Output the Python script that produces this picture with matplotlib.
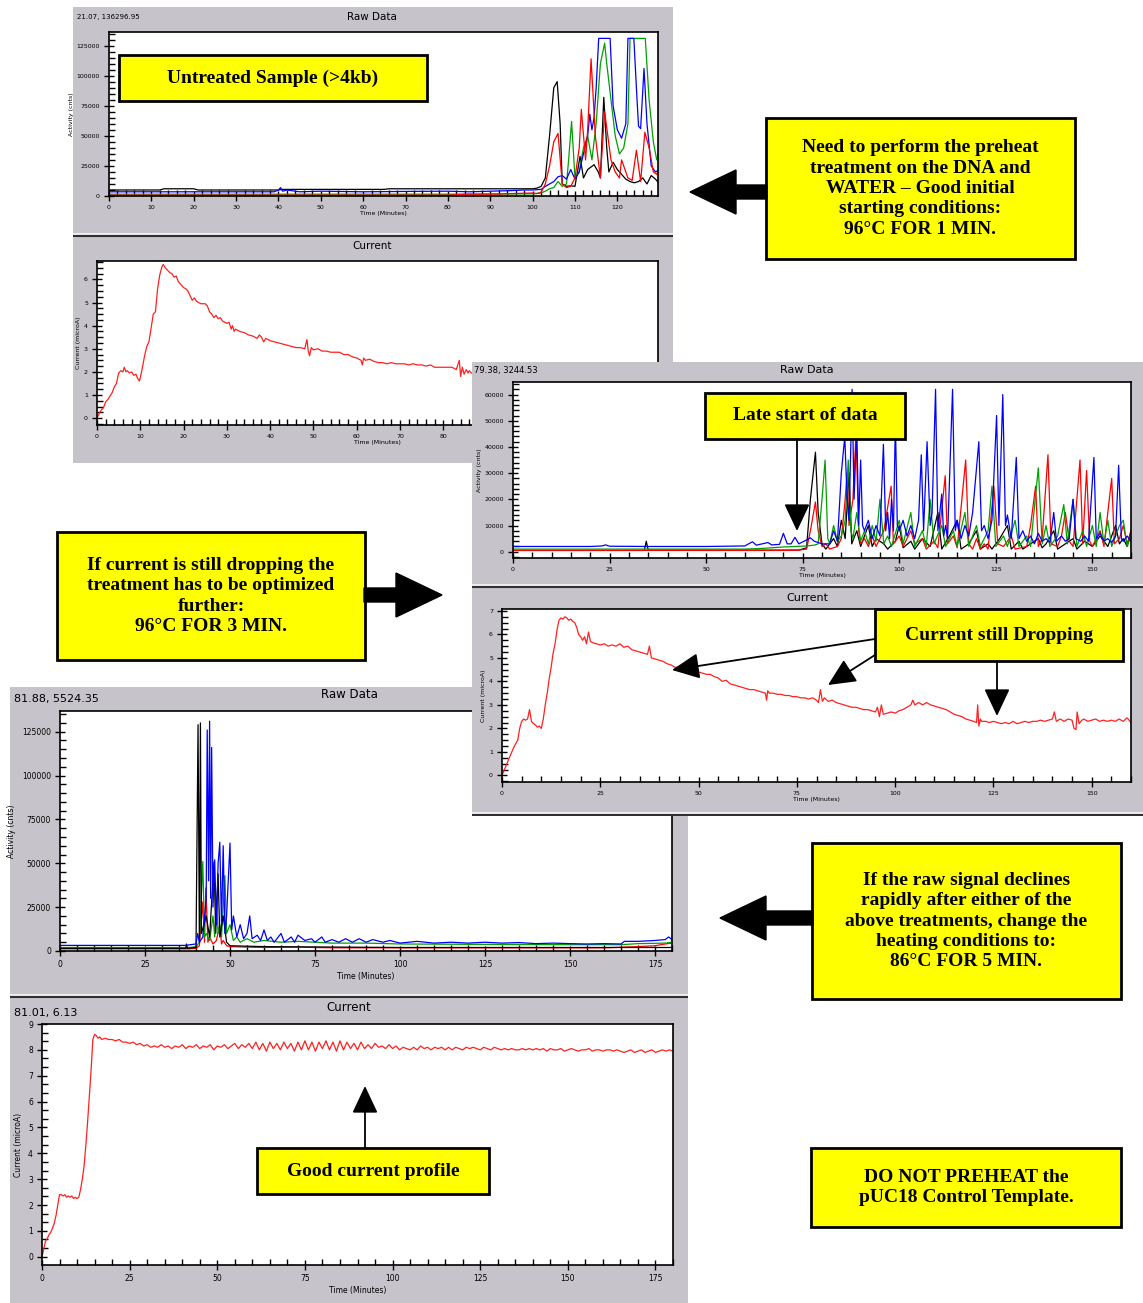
import matplotlib
matplotlib.use("Agg")
import matplotlib.pyplot as plt
from matplotlib.patches import Rectangle, FancyArrow
from matplotlib.ticker import MultipleLocator

W, H = 1143, 1303
GREY = "#c6c4ca"
YEL = "#ffff00"
SERIF = "Liberation Serif"

# ---------------- data ----------------
# panel 1 : untreated sample, raw data (time min, counts)
p1_black = [(0, 5000), (12, 5000), (13, 6000), (20, 6000), (21, 5000), (40, 5000), (41, 5500), (65, 5500),
            (66, 6000), (100, 6000), (101, 6500), (102, 8000), (103, 15000), (104, 50000), (105, 90000),
            (105.8, 95000), (106.5, 60000), (107, 10000), (108, 8000), (109, 8500), (110, 8000),
            (111.2, 33000), (112, 15000), (113, 22000), (114.5, 26000), (115.5, 20000), (116, 15000),
            (116.8, 82000), (117.5, 40000), (118, 20000), (119, 28000), (120, 22000), (121, 18000),
            (122, 14000), (123, 12000), (124, 11000), (125, 12000), (126, 15000), (127, 10000),
            (128, 17000), (129, 14000), (130, 10000)]
p1_blue = [(0, 3500), (39, 3500), (40, 5000), (40.5, 7000), (41, 4000), (42, 5000), (45, 3500), (50, 4000),
           (60, 3500), (70, 3800), (80, 4000), (85, 3500), (90, 4000), (95, 4500), (98, 5000), (100, 5000),
           (102, 5500), (103, 8000), (104, 10000), (105, 12000), (106, 16000), (107, 17000), (108, 14000),
           (109, 22000), (110, 14000), (111, 20000), (112, 35000), (113, 50000), (113.5, 68000),
           (114, 55000), (114.5, 65000), (115, 90000), (115.6, 131000), (118.3, 131000), (119, 75000),
           (120, 55000), (121, 48000), (122, 60000), (122.5, 131000), (123.9, 131000), (124.5, 90000),
           (125, 58000), (125.5, 56000), (126.3, 106000), (127, 60000), (128, 25000), (129, 20000), (130, 22000)]
p1_red = [(0, 700), (80, 700), (85, 1500), (90, 1500), (95, 2000), (100, 2500), (101, 2000), (102, 3000),
          (103, 10000), (104, 25000), (105, 45000), (106, 52000), (107, 10000), (108, 7000), (109, 8000),
          (110, 15000), (111, 40000), (111.5, 72000), (112.5, 30000), (113, 55000), (113.8, 114000),
          (114.8, 50000), (116, 15000), (117, 70000), (118.5, 30000), (119.5, 20000), (120.5, 15000),
          (121, 30000), (122.5, 15000), (123.5, 13000), (124.5, 38000), (125.5, 12000), (126.5, 53000),
          (127.5, 40000), (128.5, 20000), (129.3, 18000), (130, 25000)]
p1_green = [(0, 1500), (80, 1500), (100, 1800), (102, 2500), (103, 4000), (104, 6000), (105, 7000),
            (106, 12000), (107, 8000), (108, 10000), (108.5, 30000), (109.2, 62000), (110, 15000),
            (111, 20000), (112, 40000), (113, 50000), (114, 30000), (115, 60000), (116, 110000),
            (117, 127000), (117.5, 110000), (118.5, 80000), (119.5, 50000), (120.5, 35000), (121.5, 40000),
            (122.5, 60000), (123, 131000), (126.6, 131000), (127.5, 80000), (128.5, 45000), (129.3, 30000),
            (130, 40000)]

# panel 1 : current (microA)
p1_current = [(0, 0.0), (0.5, 0.2), (1, 0.35), (1.5, 0.45), (2, 0.7), (2.5, 0.8), (3, 0.95), (3.5, 1.1),
              (4, 1.35), (4.5, 1.5), (5, 1.95), (5.5, 2.05), (6, 2.0), (6.3, 2.2), (6.7, 2.0), (7, 2.05),
              (7.5, 1.95), (8, 2.0), (8.5, 1.85), (9, 1.9), (9.3, 1.75), (9.8, 1.6), (10.3, 2.0), (11, 2.7),
              (11.5, 3.1), (12, 3.3), (12.5, 3.9), (13, 4.5), (13.5, 4.6), (14, 5.6), (14.5, 6.2), (15, 6.55),
              (15.3, 6.65), (15.8, 6.5), (16.3, 6.4), (16.8, 6.3), (17.3, 6.25), (17.8, 6.1), (18.3, 6.15),
              (18.8, 5.9), (19.3, 5.8), (20, 5.65), (20.5, 5.6), (21, 5.5), (21.5, 5.3), (22, 5.1),
              (22.5, 5.2), (23, 5.05), (24, 4.95), (25, 4.95), (25.5, 4.85), (26, 4.6), (26.5, 4.5),
              (27, 4.35), (27.5, 4.45), (28, 4.3), (28.5, 4.35), (29, 4.2), (29.5, 4.15), (30, 4.1),
              (30.5, 4.15), (31, 3.85), (31.3, 4.0), (31.7, 3.75), (32, 3.85), (33, 3.75), (34, 3.7),
              (35, 3.6), (36, 3.55), (37, 3.45), (37.5, 3.6), (38, 3.5), (38.5, 3.3), (39, 3.45), (40, 3.35),
              (41, 3.3), (42, 3.25), (43, 3.2), (44, 3.15), (45, 3.1), (46, 3.05), (47, 3.05), (48, 3.0),
              (48.5, 3.4), (48.8, 2.9), (49.1, 2.7), (49.5, 3.05), (50, 2.95), (51, 3.0), (52, 2.9),
              (53, 2.9), (54, 2.85), (55, 2.85), (56, 2.85), (57, 2.75), (58, 2.75), (59, 2.65), (60, 2.6),
              (61, 2.5), (61.3, 2.3), (61.6, 2.6), (62, 2.5), (63, 2.55), (64, 2.45), (65, 2.4), (66, 2.4),
              (67, 2.35), (68, 2.4), (69, 2.35), (70, 2.35), (71, 2.35), (72, 2.3), (73, 2.35), (74, 2.3),
              (75, 2.3), (76, 2.25), (77, 2.3), (78, 2.2), (79, 2.2), (80, 2.2), (81, 2.2), (82, 2.2),
              (83, 2.1), (83.7, 2.5), (84, 1.8), (84.4, 2.2), (84.8, 1.9), (85.3, 2.1), (85.7, 1.95),
              (86, 2.05), (86.5, 1.95), (87, 2.0), (88, 1.95)]

# panel 2 : preheated 1 min, raw data
p2_blue = [(0, 2000), (10, 2000), (20, 2000), (23, 2200), (24, 2600), (25, 2100), (35, 2000), (50, 2000),
           (60, 2200), (62, 3800), (63, 2500), (66, 3500), (67, 2600), (69, 2800), (70, 7000), (71, 3000),
           (72, 3000), (73, 5500), (74, 3000), (76, 4500), (77, 5300), (78, 4000), (80, 3000), (82, 3000),
           (83, 8000), (84, 4000), (85, 30000), (85.9, 44000), (86.5, 20000), (87, 12000), (87.8, 62000),
           (88.3, 20000), (89, 48000), (89.5, 10000), (90, 35000), (90.5, 10000), (91, 8000), (92, 12000),
           (93, 5000), (94, 10000), (95, 6000), (95.9, 41000), (96.5, 8000), (97, 15000), (97.5, 5000),
           (98, 20000), (98.5, 8000), (99, 50000), (99.5, 10000), (100, 8000), (101, 12000), (102, 6000),
           (103, 10000), (104, 5000), (105, 12000), (105.7, 37000), (106.3, 8000), (107.2, 42000),
           (108, 10000), (108.5, 15000), (109.4, 62000), (110, 8000), (111, 22000), (111.5, 6000),
           (112, 10000), (112.5, 5000), (113.8, 62000), (114.5, 8000), (115, 12000), (116, 5000),
           (117, 10000), (118, 6000), (119, 15000), (120.6, 42000), (121.3, 8000), (122, 10000),
           (123, 5000), (124, 12000), (125.2, 52000), (125.8, 10000), (126.8, 60000), (127.5, 10000),
           (128, 14000), (129, 5000), (130.3, 36000), (131, 5000), (132, 8000), (133, 4000), (134, 6000),
           (135, 3000), (136, 7000), (137, 4000), (138, 5000), (139, 3500), (140, 15000), (140.7, 4000),
           (142, 6000), (143, 4000), (144, 5000), (145, 20000), (145.7, 5000), (147, 4000), (148, 6000),
           (149, 4000), (150.4, 36000), (151, 5000), (152, 7000), (153, 4000), (154, 5000), (155, 3500),
           (156, 6000), (156.8, 33000), (157.5, 5000), (158, 4000), (159, 6000), (160, 4000)]
p2_red = [(0, 500), (70, 500), (74, 600), (76, 1000), (77, 8000), (78.3, 19000), (79, 8000), (80, 2000),
          (81, 3000), (82, 1000), (84, 2000), (85, 5000), (86, 20000), (86.5, 30000), (87, 10000),
          (88, 20000), (88.8, 45000), (89.5, 8000), (90, 3000), (91, 5000), (92, 2000), (93, 6000),
          (94, 2000), (96, 8000), (97.9, 25000), (98.5, 3000), (100, 6000), (101, 2000), (103, 8000),
          (104, 3000), (106, 5000), (107, 1000), (109, 4000), (110, 1500), (111.9, 29000), (112.5, 3000),
          (114, 6000), (115, 1500), (117.2, 35000), (118, 3000), (119, 1000), (120, 5000), (121, 1000),
          (122, 3000), (123, 1000), (124.5, 25000), (125.5, 3000), (127, 2000), (129, 6000), (130, 1000),
          (133, 2000), (134, 10000), (135.3, 25000), (136, 2000), (137, 5000), (138.5, 37000),
          (139.3, 3000), (141, 2000), (142, 6000), (143, 15000), (144, 4000), (145, 2000), (146.8, 35000),
          (147.5, 3000), (148.5, 31000), (149.3, 4000), (150, 2000), (152, 8000), (153, 2000),
          (155, 28000), (155.7, 3000), (157, 5000), (158, 10000), (159, 3000), (160, 8000)]
p2_black = [(0, 500), (34, 500), (34.5, 4000), (35, 600), (74, 600), (76, 1500), (77, 20000), (78.3, 38000),
            (79, 15000), (80, 3000), (81, 1000), (83, 5000), (84, 2000), (85, 12000), (86, 5000),
            (87, 30000), (87.7, 3000), (89, 8000), (90, 2000), (91, 6000), (92, 10000), (93, 2000),
            (94, 5000), (96, 3000), (97, 1000), (99, 4000), (100, 10000), (101, 1500), (103, 4000),
            (104, 1000), (106, 5000), (108, 2000), (110, 15000), (111, 1000), (113, 6000), (115, 12000),
            (116, 1000), (118, 3000), (120, 8000), (121, 1000), (123, 3000), (124, 1000), (126, 5000),
            (128, 10000), (129, 1000), (131, 4000), (132, 1000), (134, 3000), (136, 5000), (137, 1500),
            (138, 3000), (140, 8000), (141, 1000), (143, 3000), (145, 5000), (146, 1000), (148, 4000),
            (150, 2000), (152, 6000), (154, 2000), (156, 10000), (157, 3000), (158, 5000), (159, 2000),
            (160, 8000)]
p2_green = [(0, 1000), (60, 1000), (65, 1300), (70, 1800), (76, 2200), (78, 2500), (79, 3000), (80, 20000),
            (80.8, 35000), (81.5, 5000), (82, 3000), (83, 10000), (84, 4000), (85, 6000), (86, 12000),
            (86.8, 35000), (87.5, 8000), (88, 5000), (89, 15000), (90, 4000), (91, 8000), (92, 3000),
            (93, 10000), (94, 4000), (95, 20000), (96, 3000), (97, 6000), (98, 2000), (100, 12000),
            (101, 3000), (103, 15000), (104, 2000), (106, 8000), (107, 2000), (108, 20000), (109, 3000),
            (111, 10000), (112, 2000), (114, 8000), (115, 2000), (117, 15000), (118, 2000), (120, 10000),
            (121, 2000), (123, 8000), (124, 25000), (125, 2000), (127, 6000), (128, 2000), (130, 12000),
            (131, 2000), (133, 6000), (134, 2000), (136, 32000), (137, 3000), (138, 10000), (139, 2000),
            (141, 6000), (142.6, 18000), (143.5, 3000), (145, 20000), (146, 2000), (147.5, 8000),
            (148.5, 2000), (150, 10000), (151, 2000), (152, 15000), (153, 3000), (154, 12000), (155, 2000),
            (157, 10000), (158, 12000), (159, 2000), (160, 6000)]

p2_current = [(0, 0.0), (1, 0.4), (2, 0.8), (3, 1.2), (4, 1.5), (4.5, 2.0), (5, 2.3), (5.5, 2.4), (6, 2.35),
              (6.5, 2.4), (7, 2.8), (7.5, 2.3), (8, 2.2), (8.5, 2.15), (9, 2.05), (9.5, 2.1), (10, 2.0),
              (10.5, 2.4), (11, 3.0), (11.5, 3.5), (12, 4.1), (12.5, 4.6), (13, 5.2), (13.5, 5.6), (14, 6.2),
              (14.5, 6.6), (15, 6.7), (15.5, 6.65), (16, 6.75), (16.5, 6.7), (17, 6.6), (17.5, 6.65),
              (18, 6.55), (18.5, 6.5), (19, 6.3), (19.5, 6.0), (20, 5.9), (20.5, 5.75), (21, 5.9),
              (21.5, 5.6), (22, 6.1), (22.5, 5.7), (23, 5.65), (24, 5.6), (25, 5.55), (26, 5.6), (27, 5.5),
              (28, 5.55), (29, 5.5), (30, 5.6), (31, 5.45), (32, 5.5), (33, 5.35), (34, 5.3), (35, 5.25),
              (36, 5.2), (37, 5.15), (37.5, 5.5), (38, 5.0), (39, 4.95), (40, 4.9), (41, 4.85), (42, 4.75),
              (43, 4.7), (44, 4.6), (45, 4.6), (46, 4.5), (47, 4.55), (48, 4.4), (48.5, 4.7), (49, 4.3),
              (50, 4.4), (51, 4.35), (52, 4.3), (53, 4.3), (54, 4.2), (55, 4.15), (56, 4.0), (57, 4.05),
              (58, 3.9), (59, 3.85), (60, 3.8), (61, 3.75), (62, 3.7), (63, 3.65), (64, 3.65), (65, 3.6),
              (66, 3.55), (67, 3.5), (67.3, 3.2), (67.6, 3.6), (68, 3.5), (69, 3.5), (70, 3.45), (71, 3.45),
              (72, 3.4), (73, 3.4), (74, 3.35), (75, 3.35), (76, 3.3), (77, 3.3), (78, 3.25), (79, 3.3),
              (80, 3.2), (80.5, 3.1), (81, 3.65), (81.5, 3.15), (82, 3.3), (83, 3.15), (84, 3.2), (85, 3.1),
              (86, 3.05), (87, 3.0), (88, 2.95), (89, 2.9), (90, 2.9), (91, 2.85), (92, 2.8), (93, 2.8),
              (94, 2.75), (95, 2.7), (95.5, 2.9), (96, 2.5), (96.5, 3.0), (97, 2.6), (98, 2.65), (99, 2.7),
              (100, 2.65), (101, 2.75), (102, 2.8), (103, 2.9), (104, 3.0), (104.5, 3.2), (105, 3.0),
              (106, 3.1), (107, 3.0), (108, 3.1), (109, 3.0), (110, 2.95), (111, 2.9), (112, 2.85),
              (113, 2.8), (114, 2.7), (115, 2.6), (116, 2.55), (117, 2.5), (118, 2.4), (119, 2.35),
              (120, 2.3), (120.7, 2.25), (121, 3.0), (121.3, 2.1), (121.7, 2.4), (122, 2.3), (123, 2.3),
              (124, 2.25), (125, 2.3), (126, 2.25), (127, 2.2), (128, 2.25), (129, 2.2), (130, 2.3),
              (131, 2.2), (132, 2.25), (133, 2.3), (134, 2.25), (135, 2.3), (136, 2.3), (137, 2.35),
              (138, 2.3), (139, 2.35), (140, 2.4), (140.5, 2.7), (141, 2.3), (142, 2.4), (143, 2.3),
              (144, 2.4), (145, 2.35), (145.5, 2.0), (146, 1.95), (146.3, 2.7), (146.8, 2.2), (147.5, 2.35),
              (148, 2.4), (149, 2.3), (150, 2.35), (151, 2.4), (152, 2.3), (153, 2.35), (154, 2.3),
              (155, 2.35), (156, 2.3), (157, 2.4), (158, 2.3), (159, 2.45), (160, 2.25)]

# panel 3 : optimised preheat, raw data
p3_blue = [(0, 3200), (37, 3200), (38, 3500), (40, 4000), (40.5, 10000), (41, 5000), (42, 8000), (43, 30000),
           (43.3, 126000), (43.7, 40000), (44, 131000), (44.3, 30000), (44.6, 116000), (45, 25000),
           (45.5, 52000), (46, 15000), (46.5, 50000), (47, 62000), (47.5, 15000), (48, 60000),
           (48.5, 10000), (49, 20000), (50, 61500), (50.5, 12000), (51, 20000), (52, 8000), (53, 15000),
           (54, 7000), (55, 10000), (55.8, 20000), (56.5, 7000), (58, 9000), (59, 6000), (60, 12000),
           (61, 6000), (62, 8000), (63, 5000), (65, 10000), (66, 5000), (68, 8000), (69, 5000), (70, 9000),
           (72, 6000), (74, 7000), (75, 5000), (77, 8000), (78, 5000), (80, 6500), (82, 5000), (84, 7000),
           (86, 5000), (88, 7000), (90, 5000), (92, 6500), (95, 5000), (97, 6000), (100, 4500),
           (105, 5500), (110, 4500), (115, 5000), (120, 4500), (125, 5000), (130, 4500), (135, 4800),
           (140, 4200), (145, 4500), (150, 4200), (155, 4000), (160, 4200), (165, 4000), (166, 5500),
           (170, 5500), (175, 6000), (178, 6500), (179, 8000), (180, 6500)]
p3_green = [(0, 2000), (38, 2000), (40, 2500), (41, 5000), (42, 51000), (42.5, 8000), (43, 10000),
            (44, 6000), (45, 20000), (45.5, 8000), (46, 30000), (46.5, 10000), (47, 15000), (47.5, 8000),
            (48.5, 43000), (49, 10000), (50, 15000), (51, 6000), (52, 8000), (53, 5000), (55, 7000),
            (57, 5000), (60, 6000), (65, 5000), (70, 5500), (80, 4500), (90, 4500), (100, 4000),
            (120, 3800), (150, 3600), (165, 3600), (170, 4200), (178, 4500), (180, 5000)]
p3_red = [(0, 1200), (38, 1200), (40, 1500), (41, 3000), (42, 28000), (42.5, 5000), (42.9, 36000),
          (43.5, 5000), (44, 8000), (45, 4000), (46, 6000), (47, 15000), (47.5, 4000), (48, 6000),
          (49, 3000), (50, 2500), (55, 2200), (60, 2000), (70, 2200), (80, 1800), (100, 1800), (130, 1800),
          (160, 1800), (170, 2500), (175, 3000), (178, 4000), (180, 4500)]
p3_black = [(0, 1500), (37, 1500), (37.2, 4000), (37.5, 1500), (40, 2000), (40.6, 129000), (41, 5000),
            (41.3, 130000), (41.6, 10000), (43, 20000), (44, 8000), (45.3, 50800), (45.8, 10000),
            (46.5, 44000), (47, 8000), (48, 20000), (49, 5000), (50, 3000), (60, 2500), (100, 2000),
            (180, 2000)]

p3_current = [(0, 0.0), (0.5, 0.3), (1, 0.6), (1.5, 0.7), (2, 0.85), (2.5, 0.95), (3, 1.1), (3.5, 1.3),
              (4, 1.6), (4.5, 2.0), (5, 2.4), (5.5, 2.4), (6, 2.35), (6.5, 2.4), (7, 2.3), (7.5, 2.35),
              (8, 2.3), (8.5, 2.35), (9, 2.25), (9.5, 2.3), (10, 2.25), (10.5, 2.3), (11, 2.6), (11.5, 3.0),
              (12, 3.5), (12.5, 4.3), (13, 5.2), (13.5, 6.2), (14, 7.2), (14.5, 8.4), (15, 8.6), (15.5, 8.55),
              (16, 8.45), (16.5, 8.5), (17, 8.4), (18, 8.45), (19, 8.4), (20, 8.4), (21, 8.35), (22, 8.4),
              (23, 8.3), (24, 8.3), (25, 8.25), (26, 8.3), (27, 8.2), (28, 8.25), (29, 8.15), (30, 8.2),
              (31, 8.1), (32, 8.15), (33, 8.1), (34, 8.2), (35, 8.1), (36, 8.15), (37, 8.05), (38, 8.15),
              (39, 8.1), (40, 8.2), (41, 8.05), (42, 8.15), (43, 8.1), (44, 8.2), (45, 8.05), (46, 8.15),
              (47, 8.1), (48, 8.2), (49, 8.0), (50, 8.15), (51, 8.1), (52, 8.2), (53, 8.05), (54, 8.15),
              (55, 8.25), (56, 8.05), (57, 8.2), (58, 8.1), (59, 8.25), (60, 8.05), (61, 8.3), (62, 8.0),
              (63, 8.25), (64, 7.95), (65, 8.3), (66, 8.05), (67, 8.25), (68, 8.0), (69, 8.3), (70, 8.05),
              (71, 8.25), (72, 7.95), (73, 8.3), (74, 8.0), (75, 8.35), (76, 8.0), (77, 8.3), (78, 7.95),
              (79, 8.3), (80, 8.05), (81, 8.35), (82, 8.0), (83, 8.3), (84, 7.95), (85, 8.35), (86, 8.0),
              (87, 8.3), (88, 8.05), (89, 8.25), (90, 8.0), (91, 8.3), (92, 8.05), (93, 8.2), (94, 8.05),
              (95, 8.25), (96, 8.1), (97, 8.15), (98, 8.05), (99, 8.2), (100, 8.05), (101, 8.15), (102, 8.0),
              (103, 8.1), (104, 8.05), (105, 8.0), (106, 8.1), (107, 8.0), (108, 8.15), (109, 8.05),
              (110, 8.1), (111, 8.0), (112, 8.1), (113, 8.05), (114, 8.1), (115, 8.0), (116, 8.1), (117, 8.0),
              (118, 8.1), (119, 8.05), (120, 8.0), (121, 8.1), (122, 8.05), (123, 8.1), (124, 8.05),
              (125, 8.0), (126, 8.1), (127, 8.05), (128, 8.0), (129, 8.1), (130, 8.05), (131, 8.0),
              (132, 8.05), (133, 8.0), (134, 8.05), (135, 8.0), (136, 8.0), (137, 8.05), (138, 8.0),
              (139, 8.05), (140, 8.0), (141, 8.05), (142, 8.0), (143, 8.05), (144, 7.95), (145, 8.05),
              (146, 8.0), (147, 8.0), (148, 8.05), (149, 7.95), (150, 8.0), (151, 8.05), (152, 8.0),
              (153, 7.95), (154, 8.0), (155, 8.0), (156, 8.05), (157, 7.95), (158, 8.0), (159, 8.0),
              (160, 7.95), (161, 8.0), (162, 8.0), (163, 7.95), (164, 8.0), (165, 7.95), (166, 7.9),
              (167, 7.95), (168, 8.0), (169, 7.9), (170, 7.95), (171, 8.0), (172, 7.9), (173, 7.95),
              (174, 8.0), (175, 7.9), (176, 7.95), (177, 8.0), (178, 7.95), (179, 8.0), (180, 7.95)]

RAW_COLORS = {"black": "#000000", "red": "#ff0000", "green": "#00a000", "blue": "#0000ff"}

# ---------------- helpers ----------------
fig = plt.figure(figsize=(W / 100, H / 100), dpi=100)


def rect(x0, y0, x1, y1):
    return [x0 / W, 1 - y1 / H, (x1 - x0) / W, (y1 - y0) / H]


def panel_bg(x0, y0, x1, y1, seps, z):
    ax = fig.add_axes(rect(x0, y0, x1, y1), zorder=z)
    ax.set_xlim(x0, x1)
    ax.set_ylim(y1, y0)
    ax.axis("off")
    ax.add_patch(Rectangle((x0, y0), x1 - x0, y1 - y0, fc=GREY, ec="none"))
    for y in seps:
        ax.plot([x0, x1], [y - 2, y - 2], color="#eeeeee", lw=1.5)
        ax.plot([x0, x1], [y, y], color="#303030", lw=1.5)
    return ax


def plot_axes(x0, y0, x1, y1, z, xlim, ylim, xmaj, xmin, ymaj, ymin, fs):
    ax = fig.add_axes(rect(x0, y0, x1, y1), zorder=z)
    ax.set_facecolor("white")
    ax.set_xlim(*xlim)
    ax.set_ylim(*ylim)
    ax.xaxis.set_major_locator(MultipleLocator(xmaj))
    ax.xaxis.set_minor_locator(MultipleLocator(xmin))
    ax.yaxis.set_major_locator(MultipleLocator(ymaj))
    ax.yaxis.set_minor_locator(MultipleLocator(ymin))
    ax.ticklabel_format(style="plain", useOffset=False)
    ax.tick_params(which="major", direction="inout", length=7, width=1, labelsize=fs, pad=3)
    ax.tick_params(which="minor", direction="in", length=4, width=1)
    for s in ax.spines.values():
        s.set_linewidth(1.2)
    return ax


def draw(ax, pts, color, lw=0.9):
    t, v = zip(*pts)
    ax.plot(t, v, color=color, lw=lw, clip_on=True)


# ---------------- panel 1 ----------------
bg1 = panel_bg(73, 7, 673, 463, [236], 1)
bg1.text(77, 17, "21.07, 136296.95", fontsize=5, va="center", ha="left")
bg1.text(372, 17, "Raw Data", fontsize=7.5, va="center", ha="center")
bg1.text(372, 246, "Current", fontsize=7.5, va="center", ha="center")

a = plot_axes(109, 32, 658, 196, 2, (0, 129.6), (0, 136300), 10, 2, 25000, 5000, 4.5)
for name in ["black", "green", "blue", "red"]:
    draw(a, globals()["p1_" + name], RAW_COLORS[name])
a.set_xlabel("Time (Minutes)", fontsize=4.5, labelpad=1)
a.set_ylabel("Activity (cnts)", fontsize=4.5, labelpad=2)

a = plot_axes(97, 261, 658, 425, 2, (0, 129.6), (-0.3, 6.8), 10, 2, 1, 0.25, 4.5)
draw(a, p1_current, "#ff2020")
a.set_xlabel("Time (Minutes)", fontsize=4.5, labelpad=1)
a.set_ylabel("Current (microA)", fontsize=4.5, labelpad=2)

# ---------------- panel 3 ----------------
bg3 = panel_bg(10, 687, 688, 1303, [997], 3)
bg3.text(14, 699, "81.88, 5524.35", fontsize=8, va="center", ha="left")
bg3.text(349, 695, "Raw Data", fontsize=8.5, va="center", ha="center")
bg3.text(14, 1013, "81.01, 6.13", fontsize=8, va="center", ha="left")
bg3.text(349, 1008, "Current", fontsize=8.5, va="center", ha="center")

a = plot_axes(60, 711, 672, 951, 4, (0, 180), (0, 136800), 25, 5, 25000, 5000, 5.5)
for name in ["red", "green", "black", "blue"]:
    draw(a, globals()["p3_" + name], RAW_COLORS[name])
a.set_xlabel("Time (Minutes)", fontsize=5.5, labelpad=2)
a.set_ylabel("Activity (cnts)", fontsize=5.5, labelpad=4)

a = plot_axes(42, 1024, 673, 1265, 4, (0, 180), (-0.32, 9.0), 25, 5, 1, 1 / 3, 5.5)
draw(a, p3_current, "#ff2020")
a.set_xlabel("Time (Minutes)", fontsize=5.5, labelpad=2)
a.set_ylabel("Current (microA)", fontsize=5.5, labelpad=4)

# ---------------- panel 2 ----------------
bg2 = panel_bg(472, 362, 1143, 816, [587, 815], 5)
bg2.text(474, 370, "79.38, 3244.53", fontsize=6, va="center", ha="left")
bg2.text(807, 370, "Raw Data", fontsize=8, va="center", ha="center")
bg2.text(807, 598, "Current", fontsize=8, va="center", ha="center")

a = plot_axes(513, 382, 1131, 558, 6, (0, 160), (-2400, 64800), 25, 5, 10000, 2000, 4.5)
for name in ["black", "red", "green", "blue"]:
    draw(a, globals()["p2_" + name], RAW_COLORS[name])
a.set_xlabel("Time (Minutes)", fontsize=4.5, labelpad=1)
a.set_ylabel("Activity (cnts)", fontsize=4.5, labelpad=2)

a = plot_axes(502, 609, 1131, 782, 6, (0, 160), (-0.28, 7.08), 25, 5, 1, 0.25, 4.5)
draw(a, p2_current, "#ff2020")
a.set_xlabel("Time (Minutes)", fontsize=4.5, labelpad=1)
a.set_ylabel("Current (microA)", fontsize=4.5, labelpad=2)

# ---------------- callouts ----------------
ov = fig.add_axes([0, 0, 1, 1], zorder=10)
ov.set_xlim(0, W)
ov.set_ylim(H, 0)
ov.axis("off")


def callout(x0, y0, x1, y1, text):
    ov.add_patch(Rectangle((x0, y0), x1 - x0, y1 - y0, fc=YEL, ec="black", lw=2))
    ov.text((x0 + x1) / 2, (y0 + y1) / 2, text, ha="center", va="center", fontsize=14,
            family=SERIF, weight="bold", linespacing=1.25)


def pointer(x0, y0, x1, y1):
    ov.annotate("", xy=(x1, y1), xytext=(x0, y0),
                arrowprops=dict(arrowstyle="-|>,head_length=0.85,head_width=0.4",
                                color="black", lw=1.3, shrinkA=0, shrinkB=0, mutation_scale=20))


def block_arrow(x0, y, x1):
    d = x1 - x0
    ov.add_patch(FancyArrow(x0, y, d, 0, width=14, head_width=44, head_length=46,
                            length_includes_head=True, fc="black", ec="black"))


callout(119, 55, 427, 101, "Untreated Sample (>4kb)")
callout(766, 118, 1075, 259, "Need to perform the preheat\ntreatment on the DNA and\n"
        "WATER \u2013 Good initial\nstarting conditions:\n96\u00b0C FOR 1 MIN.")
block_arrow(767, 192, 690)

callout(57, 532, 365, 660, "If current is still dropping the\ntreatment has to be optimized\n"
        "further:\n96\u00b0C FOR 3 MIN.")
block_arrow(364, 595, 442)

callout(705, 393, 905, 439, "Late start of data")
pointer(797, 439, 797, 531)

callout(875, 609, 1123, 661, "Current still Dropping")
pointer(875, 639, 672, 670)
pointer(875, 655, 828, 685)
pointer(997, 661, 997, 716)

callout(812, 843, 1121, 999, "If the raw signal declines\nrapidly after either of the\n"
        "above treatments, change the\nheating conditions to:\n86\u00b0C FOR 5 MIN.")
block_arrow(813, 918, 720)

callout(257, 1148, 489, 1194, "Good current profile")
pointer(365, 1148, 365, 1086)

callout(811, 1148, 1121, 1227, "DO NOT PREHEAT the\npUC18 Control Template.")

fig.savefig("out.png", dpi=100, facecolor="white")
